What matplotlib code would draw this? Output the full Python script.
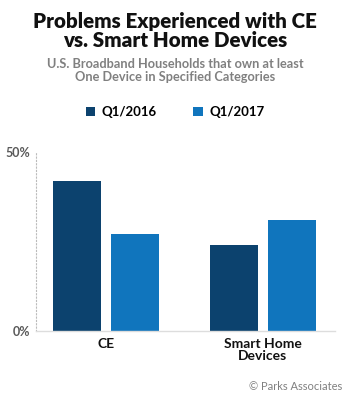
import matplotlib.pyplot as plt
import numpy as np

categories = ['CE', 'Smart Home\nDevices']
series_names = ['Q1/2016', 'Q1/2017']
q1_2016 = [42, 24]
q1_2017 = [27, 31]
colors = ['#0c426e', '#1075bd']

plt.rcParams['font.family'] = ['Lato', 'DejaVu Sans']

fig = plt.figure(figsize=(3.5, 4), dpi=100)
ax = fig.add_axes([0.103, 0.1725, 0.854, 0.4475])

x = np.arange(len(categories))
w = 0.306
off = 0.185
ax.bar(x - off, q1_2016, w, color=colors[0], label=series_names[0])
ax.bar(x + off, q1_2017, w, color=colors[1], label=series_names[1])

ax.set_xlim(-0.446, 1.459)
ax.set_ylim(0, 50)
ax.set_yticks([0, 50])
ax.set_yticklabels(['0%', '50%'], fontsize=9, fontweight='bold', color='#5a5a5a')
ax.set_xticks(x)
ax.set_xticklabels(categories, fontsize=10, fontweight='bold', color='#111111',
                   fontstretch='condensed', linespacing=1.0)
ax.tick_params(axis='both', length=0)
ax.tick_params(axis='x', pad=5)
ax.tick_params(axis='y', pad=4)

for s in ['top', 'right']:
    ax.spines[s].set_visible(False)
ax.spines['left'].set_color('#bbbbbb')
ax.spines['left'].set_linestyle((0, (1, 2)))
ax.spines['left'].set_linewidth(0.8)
ax.spines['bottom'].set_color('#dddddd')
ax.spines['bottom'].set_linewidth(1)

fig.text(0.5, 0.923, 'Problems Experienced with CE\nvs. Smart Home Devices',
         ha='center', va='center', fontsize=14.8, fontweight='heavy', color='#111111',
         linespacing=1.0)
fig.text(0.5, 0.823, 'U.S. Broadband Households that own at least\nOne Device in Specified Categories',
         ha='center', va='center', fontsize=9.2, fontweight='bold', color='#808080',
         linespacing=1.1)

fig.legend(loc='center', bbox_to_anchor=(0.5, 0.72), ncol=2, frameon=False,
           handlelength=0.7, handleheight=0.7, handletextpad=0.5, columnspacing=2.8,
           prop={'weight': 'bold', 'size': 9.5})

fig.text(0.977, 0.033, '\u00a9 Parks Associates', ha='right', va='center',
         fontsize=8, color='#808080')

fig.savefig('out.png', dpi=100, facecolor='white')
